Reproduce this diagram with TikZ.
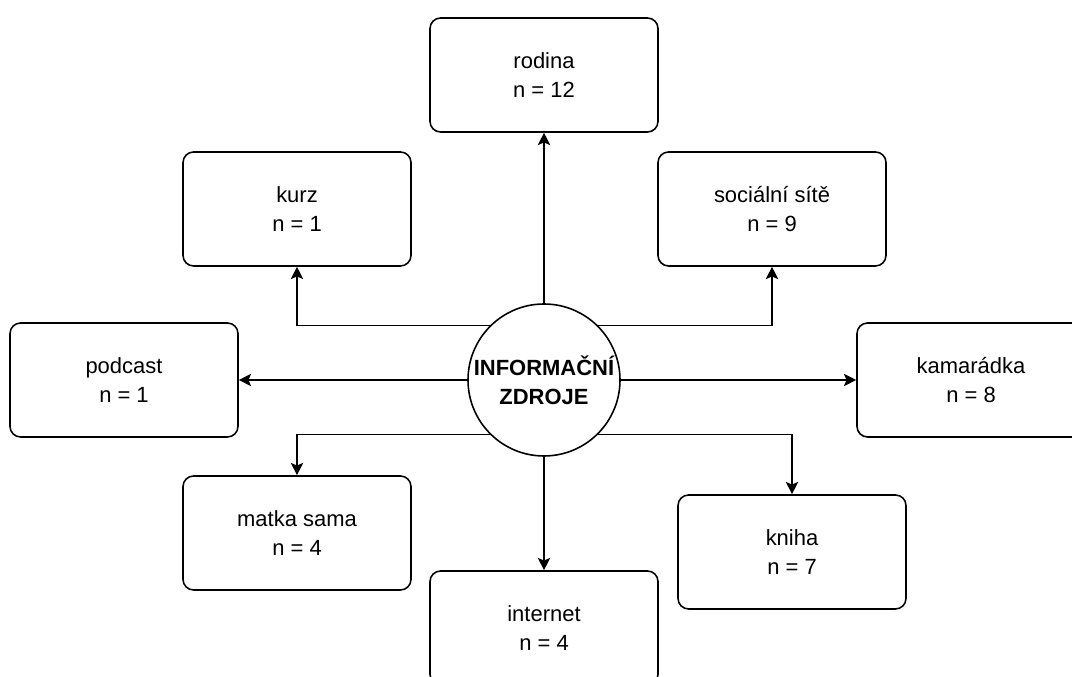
\documentclass[tikz,border=0pt]{standalone}
\usepackage{fontspec}
\setmainfont{Liberation Sans}
\usetikzlibrary{arrows.meta, calc}

\begin{document}
\begin{tikzpicture}[box/.style = {shape=rectangle, rounded corners=6pt, draw, line width=0.9pt, align=center,
  minimum width=4.56cm, minimum height=2.28cm, font=\fontsize{12.5}{16.5}\selectfont},
hub/.style = {shape=circle, draw, line width=0.9pt, align=center, minimum size=3.04cm, inner sep=0pt,
  font=\bfseries\fontsize{12.5}{16.5}\selectfont},
link/.style = {-{Stealth[length=7pt, width=7pt, inset=1.5pt]}, line width=0.9pt}]

  \useasboundingbox (0,0) rectangle (21.44,13.54);

  \node[hub] (zdroje) at (10.88,5.94) {INFORMAČNÍ\\ZDROJE};

  \node[box] (rodina) at (10.88,12.04) {rodina\\n = 12};
  \node[box] (kurz) at (5.94,9.36) {kurz\\n = 1};
  \node[box] (site) at (15.44,9.36) {sociální sítě\\n = 9};
  \node[box] (podcast) at (2.48,5.94) {podcast\\n = 1};
  \node[box] (kamaradka) at (19.42,5.94) {kamarádka\\n = 8};
  \node[box] (matka) at (5.94,2.88) {matka sama\\n = 4};
  \node[box] (kniha) at (15.84,2.50) {kniha\\n = 7};
  \node[box] (internet) at (10.88,0.98) {internet\\n = 4};

  \draw[link] (zdroje) -- (rodina);
  \draw[link] (zdroje.135) -| (kurz);
  \draw[link] (zdroje.45) -| (site);
  \draw[link] (zdroje) -- (podcast);
  \draw[link] (zdroje) -- (kamaradka);
  \draw[link] (zdroje.-135) -| (matka);
  \draw[link] (zdroje.-45) -| (kniha);
  \draw[link] (zdroje) -- (internet);
\end{tikzpicture}
\end{document}
